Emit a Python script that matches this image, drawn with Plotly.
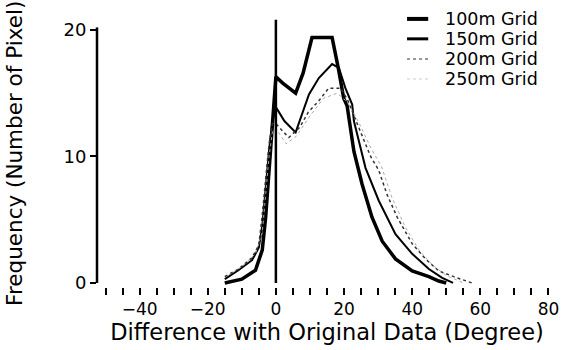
import plotly.graph_objects as go

# ---- data ----
x_100 = [-15, -10, -6, -4, -3, -2, -1, 0, 2, 5.8, 8, 10.6, 13.5, 16.5, 18.3, 19.9, 20.9, 22.9, 25.3, 28.2, 31.2, 35.1, 40, 44.9, 47.8, 50]
y_100 = [0, 0.3, 1.0, 2.6, 5.2, 9.2, 13.2, 16.3, 15.8, 15.0, 16.6, 19.4, 19.4, 19.4, 17.0, 14.6, 14.0, 10.4, 7.8, 5.2, 3.3, 1.9, 0.95, 0.5, 0.15, 0]

x_150 = [-15, -11, -7, -5, -4, -3, -2, -1, 0, 2.5, 5.8, 9.7, 12.6, 16.5, 18.5, 20.4, 22.4, 22.9, 26.3, 30.2, 35.1, 40, 44.9, 48.8, 52]
y_150 = [0.3, 1.0, 1.8, 2.8, 4.5, 7.5, 10.5, 12.8, 13.9, 12.8, 11.9, 14.9, 16.2, 17.3, 17.0, 15.4, 14.1, 12.8, 9.1, 6.5, 3.85, 2.3, 1.1, 0.4, 0]

x_200 = [-15, -11, -7, -5, -4, -3, -2, -1, 0, 2, 3.8, 7, 9.5, 12.6, 15.5, 19, 21, 24.3, 27.8, 30.2, 32.6, 35.6, 40, 43.9, 47.8, 52.2, 57.5]
y_200 = [0.5, 1.1, 2.0, 3.0, 5.4, 8.3, 11.0, 12.6, 12.6, 12.0, 11.5, 12.3, 13.5, 14.4, 15.4, 15.4, 14.5, 12.3, 10.0, 8.9, 7.0, 5.2, 3.1, 1.9, 0.95, 0.5, 0]

x_250 = [-14, -10, -6, -4, -3, -2, -1, 0, 3, 6, 10, 14, 18, 21, 24.5, 28, 31, 34, 38, 42, 46, 50, 55]
y_250 = [0.6, 1.3, 2.3, 4.0, 7.0, 10.0, 12.0, 12.2, 11.0, 11.6, 13.2, 14.6, 15.0, 14.3, 12.6, 10.6, 9.2, 6.8, 4.4, 2.6, 1.4, 0.6, 0]

series_names = ["100m Grid", "150m Grid", "200m Grid", "250m Grid"]

ref_x = 0          # vertical reference line position
ref_top = 20.8     # its height

x_tick_vals = [-40, -20, 0, 20, 40, 60, 80]
y_tick_vals = [0, 10, 20]

FONT = "DejaVu Sans"

styles = [
    dict(color="black", width=3.5),
    dict(color="black", width=2),
    dict(color="#333", width=1.5, dash="dot"),
    dict(color="#aaa", width=1, dash="dot"),
]
xs = [x_100, x_150, x_200, x_250]
ys = [y_100, y_150, y_200, y_250]

fig = go.Figure()
for name, xv, yv, st in zip(series_names, xs, ys, styles):
    fig.add_trace(go.Scatter(x=xv, y=yv, mode="lines", name=name, line=st, showlegend=False))

fig.add_shape(type="line", xref="x", yref="y", x0=ref_x, x1=ref_x, y0=0, y1=ref_top,
              line=dict(color="black", width=2.5))
fig.add_shape(type="line", xref="paper", yref="y", x0=0, x1=0, y0=0, y1=20.2,
              line=dict(color="black", width=2.5))

# hand-made compact legend (rows tightly packed as in the reference)
legend_rows_y = [0.982, 0.909, 0.835, 0.762]
legend_symbols = [
    dict(color="black", width=4),
    dict(color="black", width=3),
    dict(color="#777", width=1.5, dash="dot"),
    dict(color="#ccc", width=1, dash="dot"),
]
annotations = []
for name, ry, sym in zip(series_names, legend_rows_y, legend_symbols):
    fig.add_shape(type="line", xref="paper", yref="paper", x0=0.674, x1=0.72, y0=ry, y1=ry,
                  line=sym)
    annotations.append(dict(text=name, xref="paper", yref="paper", x=0.752, y=ry,
                            xanchor="left", yanchor="middle", showarrow=False,
                            font=dict(size=17.5, family=FONT)))

annotations.append(dict(text="Frequency (Number of Pixel)", textangle=-90,
                        xref="paper", yref="paper", x=-0.179, y=0.49,
                        xanchor="center", yanchor="middle",
                        showarrow=False, font=dict(size=21.5, family=FONT)))

fig.update_layout(
    width=565, height=350,
    margin=dict(l=97, r=8, t=14, b=63, autoexpand=False),
    plot_bgcolor="white", paper_bgcolor="white",
    font=dict(family=FONT, color="black", size=17),
    showlegend=False,
    xaxis=dict(range=[-52.5, 82.5], showgrid=False, zeroline=False, showline=False,
               automargin=False,
               tickvals=x_tick_vals, ticks="outside", ticklen=7, tickwidth=1.5,
               tickcolor="black", tickfont=dict(size=17, family=FONT),
               minor=dict(dtick=5, tick0=0, ticks="outside", ticklen=7, tickwidth=1.5, tickcolor="black"),
               title=dict(text="Difference with Original Data (Degree)",
                          font=dict(size=22.5, family=FONT), standoff=2)),
    yaxis=dict(range=[-0.32, 21.26], showgrid=False, zeroline=False, showline=False,
               automargin=False,
               tickvals=y_tick_vals, ticks="outside", ticklen=6, tickwidth=1.5,
               tickcolor="black", tickfont=dict(size=18, family=FONT)),
    annotations=annotations,
)

fig.write_html("out.html", config={"displayModeBar": False},
               post_script="document.body.style.margin='0';document.body.style.overflow='hidden';")
